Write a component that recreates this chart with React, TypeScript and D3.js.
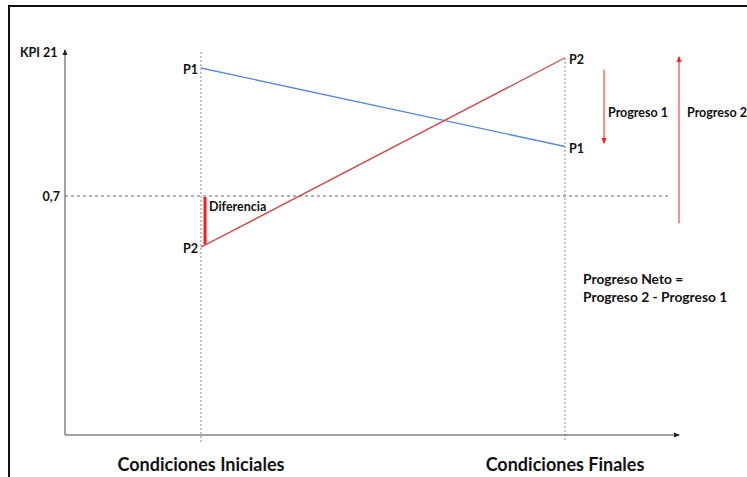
import React from "react";
import * as d3 from "d3";

const categories = ["Condiciones Iniciales", "Condiciones Finales"];
const seriesNames = ["P1", "P2"];
const p1Values = [1.075, 0.845];
const p2Values = [0.55, 1.105];
const refValue = 0.7;
const refLabel = "0,7";
const yAxisTitle = "KPI 21";
const progreso1 = [1.07, 0.855];
const progreso2 = [0.62, 1.107];
const netText = ["Progreso Neto =", "Progreso 2 - Progreso 1"];

const W = 747;
const H = 477;
const FONT = "Lato, 'Open Sans', sans-serif";

export default function App() {
  const x = d3.scalePoint<string>().domain(categories).range([201, 565]);
  const y = d3.scaleLinear().domain([0, 1]).range([435, 93.6]);
  const axisX0 = 65;
  const axisY0 = 435;
  const line = d3
    .line<[number, number]>()
    .x((d) => d[0])
    .y((d) => d[1]);
  const series = [
    { name: seriesNames[0], values: p1Values, color: "#5b8bcf" },
    { name: seriesNames[1], values: p2Values, color: "#cc5350" },
  ];
  const xi = x(categories[0])!;
  const xf = x(categories[1])!;
  const red = "#ff1a1a";
  const labelStyle = { fontFamily: FONT, fontWeight: 700, fontSize: 12.5, fill: "#111" } as const;
  const netStyle = { ...labelStyle, fontSize: 13.8 };

  return (
    <svg
      width={W}
      height={H}
      style={{ position: "absolute", left: 0, top: 0, background: "#fff" }}
    >
      <defs>
        <marker id="ax" viewBox="0 0 6 6" refX="5" refY="3" markerWidth="6" markerHeight="6" orient="auto">
          <path d="M0,0.5 L6,3 L0,5.5 Z" fill="#222" />
        </marker>
        <marker id="ar" viewBox="0 0 6 6" refX="5" refY="3" markerWidth="6" markerHeight="6" orient="auto">
          <path d="M0,0.5 L6,3 L0,5.5 Z" fill={red} />
        </marker>
      </defs>
      <rect x={0} y={0} width={W} height={H} fill="#fff" />
      {/* frame */}
      <line x1={8} y1={6} x2={W} y2={6} stroke="#111" strokeWidth={2} />
      <line x1={9} y1={5} x2={9} y2={H} stroke="#111" strokeWidth={2} />

      {/* guide lines */}
      <line x1={xi} y1={52} x2={xi} y2={442} stroke="#888" strokeWidth={1} strokeDasharray="2,2" />
      <line x1={xf} y1={58} x2={xf} y2={442} stroke="#888" strokeWidth={1} strokeDasharray="2,2" />
      <line x1={axisX0} y1={y(refValue)} x2={668} y2={y(refValue)} stroke="#666" strokeWidth={1} strokeDasharray="3,3" />

      {/* axes */}
      <line x1={axisX0} y1={axisY0} x2={axisX0} y2={50} stroke="#444" strokeWidth={1} markerEnd="url(#ax)" />
      <line x1={axisX0} y1={axisY0} x2={679} y2={axisY0} stroke="#444" strokeWidth={1} markerEnd="url(#ax)" />
      <text x={20} y={57} style={labelStyle}>{yAxisTitle}</text>
      <text x={60} y={y(refValue) + 5} textAnchor="end" style={labelStyle}>{refLabel}</text>

      {/* series */}
      {series.map((s) => (
        <path
          key={s.name}
          d={line(s.values.map((v, i) => [x(categories[i])!, y(v)]))!}
          fill="none"
          stroke={s.color}
          strokeWidth={1.4}
        />
      ))}
      {series.map((s) => (
        <g key={s.name + "l"}>
          <text x={xi - 3} y={y(s.values[0]) + 6} textAnchor="end" style={labelStyle}>{s.name}</text>
          <text x={xf + 4} y={y(s.values[1]) + 6} style={labelStyle}>{s.name}</text>
        </g>
      ))}

      {/* Diferencia */}
      <line x1={xi + 4} y1={y(refValue) + 1} x2={xi + 4} y2={y(p2Values[0]) - 3} stroke={red} strokeWidth={3} />
      <text x={xi + 8} y={y(refValue) + 15} style={labelStyle}>Diferencia</text>

      {/* Progreso arrows */}
      <line x1={604} y1={y(progreso1[0])} x2={604} y2={y(progreso1[1])} stroke={red} strokeWidth={1} markerEnd="url(#ar)" />
      <text x={608} y={117} style={labelStyle}>Progreso 1</text>
      <line x1={679} y1={y(progreso2[0])} x2={679} y2={y(progreso2[1])} stroke={red} strokeWidth={1} markerEnd="url(#ar)" />
      <text x={687} y={117} style={labelStyle}>Progreso 2</text>

      <text x={583} y={284} style={netStyle}>{netText[0]}</text>
      <text x={583} y={302} style={netStyle}>{netText[1]}</text>

      {/* category labels */}
      {categories.map((c) => (
        <text
          key={c}
          x={x(c)!}
          y={471}
          textAnchor="middle"
          style={{ fontFamily: FONT, fontWeight: 700, fontSize: 18, fill: "#111" }}
        >
          {c}
        </text>
      ))}
    </svg>
  );
}
